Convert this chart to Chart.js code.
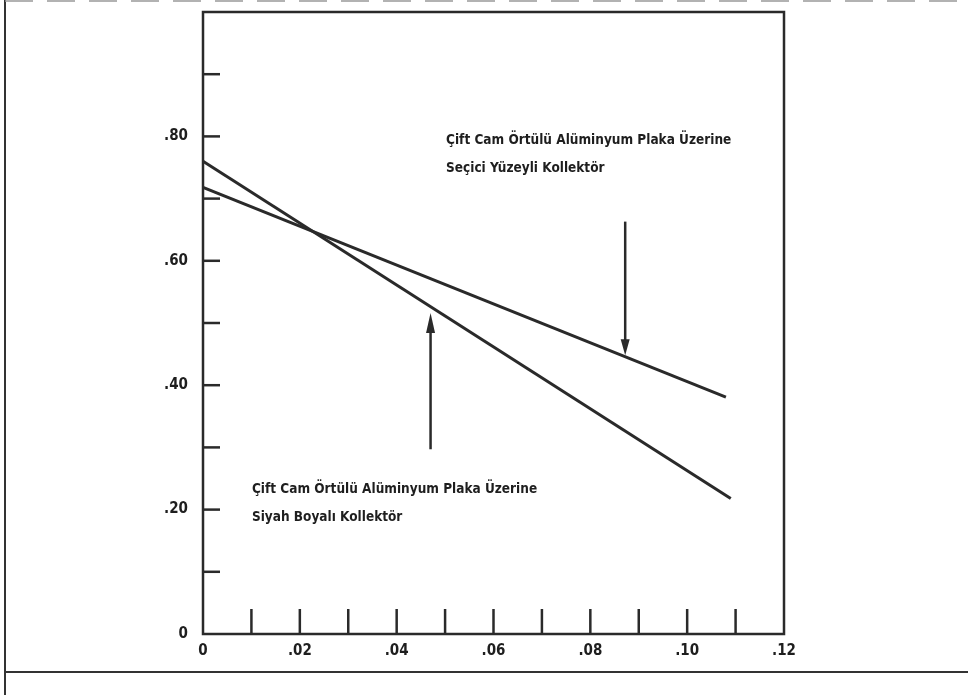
<!DOCTYPE html>
<html><head><meta charset="utf-8">
<script src="https://cdn.jsdelivr.net/npm/chart.js@4.4.1/dist/chart.umd.min.js"></script>
<style>html,body{margin:0;padding:0;background:#fff}#wrap{width:968px;height:695px}</style>
</head><body><div id="wrap"><canvas id="c" width="968" height="695"></canvas></div>
<script>
// Data
const xBlack = [0, 0.109];
const yBlack = [0.76, 0.218];
const xSelective = [0, 0.108];
const ySelective = [0.718, 0.381];
const xTickValues = [0, 0.01, 0.02, 0.03, 0.04, 0.05, 0.06, 0.07, 0.08, 0.09, 0.10, 0.11, 0.12];
const xTickLabels = ['0', '', '.02', '', '.04', '', '.06', '', '.08', '', '.10', '', '.12'];
const yTickValues = [0, 0.1, 0.2, 0.3, 0.4, 0.5, 0.6, 0.7, 0.8, 0.9, 1.0];
const yTickLabels = ['0', '', '.20', '', '.40', '', '.60', '', '.80', '', ''];
const arrowDown = {x: 0.0872, from: 0.663, to: 0.448};
const arrowUp = {x: 0.047, from: 0.297, to: 0.516};
const labelSelective = ['Çift Cam Örtülü Alüminyum Plaka Üzerine', 'Seçici Yüzeyli Kollektör'];
const labelSelectivePos = {x: 0.0502, y: 0.793};
const labelBlack = ['Çift Cam Örtülü Alüminyum Plaka Üzerine', 'Siyah Boyalı Kollektör'];
const labelBlackPos = {x: 0.0101, y: 0.233};

const ink = '#2a2a2a';
const toPts = (xs, ys) => xs.map((x, i) => ({x, y: ys[i]}));

const decor = {
  id: 'decor',
  afterDraw(chart) {
    const {ctx, chartArea: a, scales: {x, y}} = chart;
    ctx.save();
    ctx.strokeStyle = ink; ctx.lineCap = 'butt';
    ctx.lineWidth = 2.5;
    ctx.strokeRect(a.left, a.top, a.right - a.left, a.bottom - a.top);
    xTickValues.forEach(v => {
      if (v === 0 || v === 0.12) return;
      const px = x.getPixelForValue(v);
      ctx.beginPath(); ctx.moveTo(px, a.bottom); ctx.lineTo(px, a.bottom - 25); ctx.stroke();
    });
    yTickValues.forEach(v => {
      if (v === 0 || v === 1.0) return;
      const py = y.getPixelForValue(v);
      ctx.beginPath(); ctx.moveTo(a.left, py); ctx.lineTo(a.left + 17, py); ctx.stroke();
    });
    const arrow = (ar, down) => {
      const px = x.getPixelForValue(ar.x);
      const p1 = y.getPixelForValue(ar.from), p2 = y.getPixelForValue(ar.to);
      ctx.lineWidth = 2.5;
      ctx.beginPath(); ctx.moveTo(px, p1); ctx.lineTo(px, p2 + (down ? -10 : 10)); ctx.stroke();
      ctx.fillStyle = ink;
      ctx.beginPath();
      const hl = down ? 16 : 20, hw = 4.5;
      ctx.moveTo(px, p2);
      ctx.lineTo(px - hw, p2 + (down ? -hl : hl));
      ctx.lineTo(px + hw, p2 + (down ? -hl : hl));
      ctx.closePath(); ctx.fill();
    };
    arrow(arrowDown, true);
    arrow(arrowUp, false);
    ctx.fillStyle = '#1e1e1e';
    ctx.font = 'bold 13.5px "DejaVu Sans Condensed", "DejaVu Sans"';
    ctx.textBaseline = 'middle'; ctx.textAlign = 'left';
    const txt = (lines, pos) => {
      const px = x.getPixelForValue(pos.x), py = y.getPixelForValue(pos.y);
      lines.forEach((l, i) => ctx.fillText(l, px, py + i * 28));
    };
    txt(labelSelective, labelSelectivePos);
    txt(labelBlack, labelBlackPos);
    ctx.strokeStyle = '#333'; ctx.lineWidth = 2;
    ctx.beginPath(); ctx.moveTo(5, 0); ctx.lineTo(5, 695); ctx.stroke();
    ctx.beginPath(); ctx.moveTo(5, 672); ctx.lineTo(968, 672); ctx.stroke();
    ctx.setLineDash([28, 14]); ctx.lineWidth = 1.5; ctx.strokeStyle = '#999';
    ctx.beginPath(); ctx.moveTo(5, 1); ctx.lineTo(968, 1); ctx.stroke();
    ctx.restore();
  }
};

new Chart(document.getElementById('c'), {
  type: 'scatter',
  data: {
    datasets: [
      {data: toPts(xBlack, yBlack), showLine: true, borderColor: ink, borderWidth: 3, pointRadius: 0},
      {data: toPts(xSelective, ySelective), showLine: true, borderColor: ink, borderWidth: 3, pointRadius: 0}
    ]
  },
  options: {
    responsive: false, animation: false,
    layout: {padding: {top: 12, right: 184, left: 0, bottom: 0}},
    plugins: {legend: {display: false}, tooltip: {enabled: false}},
    scales: {
      x: {
        type: 'linear', min: 0, max: 0.12,
        afterFit: s => { s.height = 61; s.paddingLeft = 0; s.paddingRight = 0; },
        afterBuildTicks: s => { s.ticks = xTickValues.map(v => ({value: v})); },
        grid: {display: false, drawTicks: false},
        border: {display: false},
        ticks: {
          autoSkip: false, maxRotation: 0, padding: 8, color: '#1e1e1e',
          font: {family: '"DejaVu Sans Condensed", "DejaVu Sans"', weight: 'bold', size: 15},
          callback: (v) => { const i = xTickValues.findIndex(t => Math.abs(t - v) < 1e-9); return i >= 0 ? xTickLabels[i] : ''; }
        }
      },
      y: {
        type: 'linear', min: 0, max: 1.0,
        afterFit: s => { s.width = 203; s.paddingTop = 0; s.paddingBottom = 0; },
        afterBuildTicks: s => { s.ticks = yTickValues.map(v => ({value: v})); },
        grid: {display: false, drawTicks: false},
        border: {display: false},
        ticks: {
          autoSkip: false, padding: 15, color: '#1e1e1e',
          font: {family: '"DejaVu Sans Condensed", "DejaVu Sans"', weight: 'bold', size: 15},
          callback: (v) => { const i = yTickValues.findIndex(t => Math.abs(t - v) < 1e-9); return i >= 0 ? yTickLabels[i] : ''; }
        }
      }
    }
  },
  plugins: [decor]
});
</script></body></html>
